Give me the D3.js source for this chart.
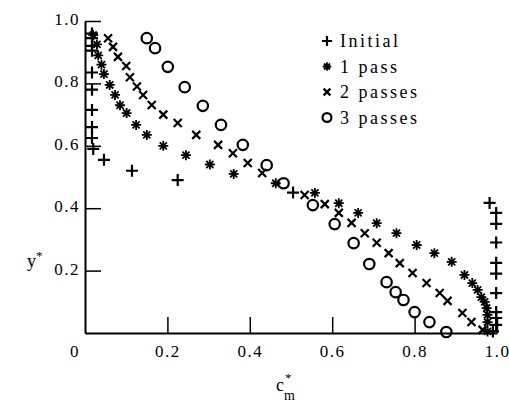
<!DOCTYPE html>
<html>
<head>
<meta charset="utf-8">
<script src="https://cdn.jsdelivr.net/npm/d3@7"></script>
<style>
  body { margin: 0; background: #fff; }
  text { font-family: "Liberation Serif", "Times New Roman", serif; fill: #000; }
</style>
</head>
<body>
<div id="chart"></div>
<script>
// data
var xTicks = [0.2, 0.4, 0.6, 0.8, 1.0];
var yTicks = [0.2, 0.4, 0.6, 0.8, 1.0];

var initialX = [0.017,0.017,0.017,0.017,0.017,0.017,0.017,0.017,0.017,0.02,0.046,0.114,0.225,0.505,
                0.982,0.998,0.998,0.998,0.998,0.998,0.998,0.998,0.998,0.998,0.99];
var initialY = [0.96,0.945,0.92,0.905,0.835,0.78,0.715,0.66,0.625,0.59,0.555,0.52,0.49,0.45,
                0.417,0.385,0.35,0.29,0.225,0.19,0.128,0.067,0.048,0.026,0.005];

var pass1X = [0.02,0.029,0.032,0.04,0.046,0.06,0.073,0.085,0.101,0.124,0.15,0.19,0.245,0.303,0.361,
              0.463,0.558,0.616,0.663,0.708,0.756,0.805,0.848,0.89,0.921,0.94,0.953,0.962,0.97,0.975,
              0.977,0.977,0.977];
var pass1Y = [0.955,0.925,0.89,0.86,0.83,0.795,0.763,0.73,0.705,0.667,0.635,0.6,0.57,0.54,0.51,
              0.48,0.449,0.416,0.385,0.352,0.32,0.282,0.256,0.228,0.186,0.16,0.138,0.115,0.1,0.08,
              0.058,0.035,0.005];

var pass2X = [0.056,0.068,0.08,0.1,0.109,0.126,0.141,0.162,0.19,0.225,0.27,0.323,0.359,0.395,0.43,
              0.533,0.582,0.616,0.647,0.679,0.708,0.737,0.764,0.795,0.829,0.861,0.88,0.916,0.938,0.965];
var pass2Y = [0.945,0.917,0.885,0.856,0.82,0.79,0.763,0.731,0.7,0.673,0.635,0.603,0.576,0.545,0.513,
              0.442,0.413,0.385,0.353,0.32,0.289,0.256,0.224,0.192,0.16,0.128,0.103,0.064,0.035,0.01];

var pass3X = [0.15,0.17,0.201,0.242,0.286,0.33,0.383,0.441,0.482,0.553,0.606,0.652,0.69,0.732,
              0.754,0.773,0.8,0.836,0.877];
var pass3Y = [0.945,0.913,0.853,0.788,0.728,0.667,0.603,0.538,0.48,0.41,0.349,0.288,0.221,0.163,
              0.131,0.106,0.067,0.035,0.003];

var seriesNames = ["Initial", "1 pass", "2 passes", "3 passes"];

// glyphs; "size" is used as half-width in px
var glyphPlus = { draw: function(c, r) { c.moveTo(-r, 0); c.lineTo(r, 0); c.moveTo(0, -r); c.lineTo(0, r); } };
var glyphTimes = { draw: function(c, r) { c.moveTo(-r, -r); c.lineTo(r, r); c.moveTo(-r, r); c.lineTo(r, -r); } };
var glyphStar = { draw: function(c, r) {
    for (var i = 0; i < 4; i++) {
        var a = i * Math.PI / 4;
        c.moveTo(r * Math.cos(a), r * Math.sin(a));
        c.lineTo(-r * Math.cos(a), -r * Math.sin(a));
    }
} };
var glyphCircle = { draw: function(c, r) { c.moveTo(r, 0); c.arc(0, 0, r, 0, 2 * Math.PI); } };

var series = [
    { name: seriesNames[0], xs: initialX, ys: initialY, glyph: glyphPlus, r: 6, w: 2.2 },
    { name: seriesNames[1], xs: pass1X, ys: pass1Y, glyph: glyphStar, r: 5, w: 1.8 },
    { name: seriesNames[2], xs: pass2X, ys: pass2Y, glyph: glyphTimes, r: 4, w: 2.2 },
    { name: seriesNames[3], xs: pass3X, ys: pass3Y, glyph: glyphCircle, r: 5.2, w: 2.2 }
];

var margin = {top: 21, right: 12, bottom: 72, left: 85};
var width = 509 - margin.left - margin.right;
var height = 405 - margin.top - margin.bottom;

var x = d3.scaleLinear().domain([0, 1]).range([0, width]);
var y = d3.scaleLinear().domain([0, 1]).range([height, 0]);

var svg = d3.select("#chart").append("svg")
    .attr("width", 509)
    .attr("height", 405)
  .append("g")
    .attr("transform", "translate(" + margin.left + "," + margin.top + ")");

// axes with inward ticks
var xAxis = d3.axisBottom(x).tickValues(xTicks).tickSize(-16).tickSizeOuter(0)
    .tickFormat(d3.format(".1f")).tickPadding(12);
var yAxis = d3.axisLeft(y).tickValues(yTicks).tickSize(-16).tickSizeOuter(0)
    .tickFormat(d3.format(".1f")).tickPadding(22);

var gx = svg.append("g")
    .attr("transform", "translate(0," + height + ")")
    .call(xAxis);
var gy = svg.append("g").call(yAxis);

[gx, gy].forEach(function(g) {
    g.selectAll("path.domain").attr("stroke", "#000").attr("stroke-width", 2);
    g.selectAll(".tick line").attr("stroke", "#000").attr("stroke-width", 1.5);
    g.selectAll(".tick text")
        .style("font-family", "'Liberation Serif', serif")
        .style("font-size", "17px")
        .style("letter-spacing", "1.5px")
        .attr("fill", "#000");
});
gy.selectAll(".tick text").attr("x", -5).attr("dy", "0.2em");

// origin label
svg.append("text")
    .attr("x", -15)
    .attr("y", height + 24)
    .style("font-size", "17px")
    .text("0");

// axis titles, with star and subscript kept as separate texts
svg.append("text")
    .attr("x", 191)
    .attr("y", height + 58)
    .style("font-size", "18px")
    .text("c");
svg.append("text")
    .attr("x", 200)
    .attr("y", height + 49)
    .style("font-size", "13px")
    .text("*");
svg.append("text")
    .attr("x", 199)
    .attr("y", height + 67)
    .style("font-size", "14px")
    .text("m");

svg.append("text")
    .attr("x", -58)
    .attr("y", 246)
    .style("font-size", "18px")
    .text("y");
svg.append("text")
    .attr("x", -49)
    .attr("y", 239)
    .style("font-size", "13px")
    .text("*");

// points
series.forEach(function(s) {
    var pts = s.xs.map(function(v, i) { return [v, s.ys[i]]; });
    svg.append("g").selectAll("path")
        .data(pts).enter()
        .append("path")
            .attr("transform", function(d) { return "translate(" + x(d[0]) + "," + y(d[1]) + ")"; })
            .attr("d", d3.symbol().type(s.glyph).size(s.r))
            .attr("fill", "none")
            .attr("stroke", "#000")
            .attr("stroke-width", s.w);
});

// legend
var legend = svg.append("g").attr("transform", "translate(242,20)");
var row = legend.selectAll("g")
    .data(series).enter()
    .append("g")
        .attr("transform", function(d, i) { return "translate(0," + (i * 25.5) + ")"; });
row.append("path")
    .attr("d", function(d) { return d3.symbol().type(d.glyph).size(d.r * 0.85)(); })
    .attr("fill", "none")
    .attr("stroke", "#000")
    .attr("stroke-width", function(d) { return d.w; });
row.append("text")
    .attr("x", 13)
    .attr("dy", "0.35em")
    .style("font-size", "18px")
    .style("letter-spacing", "2.5px")
    .text(function(d) { return d.name; });
</script>
</body>
</html>
